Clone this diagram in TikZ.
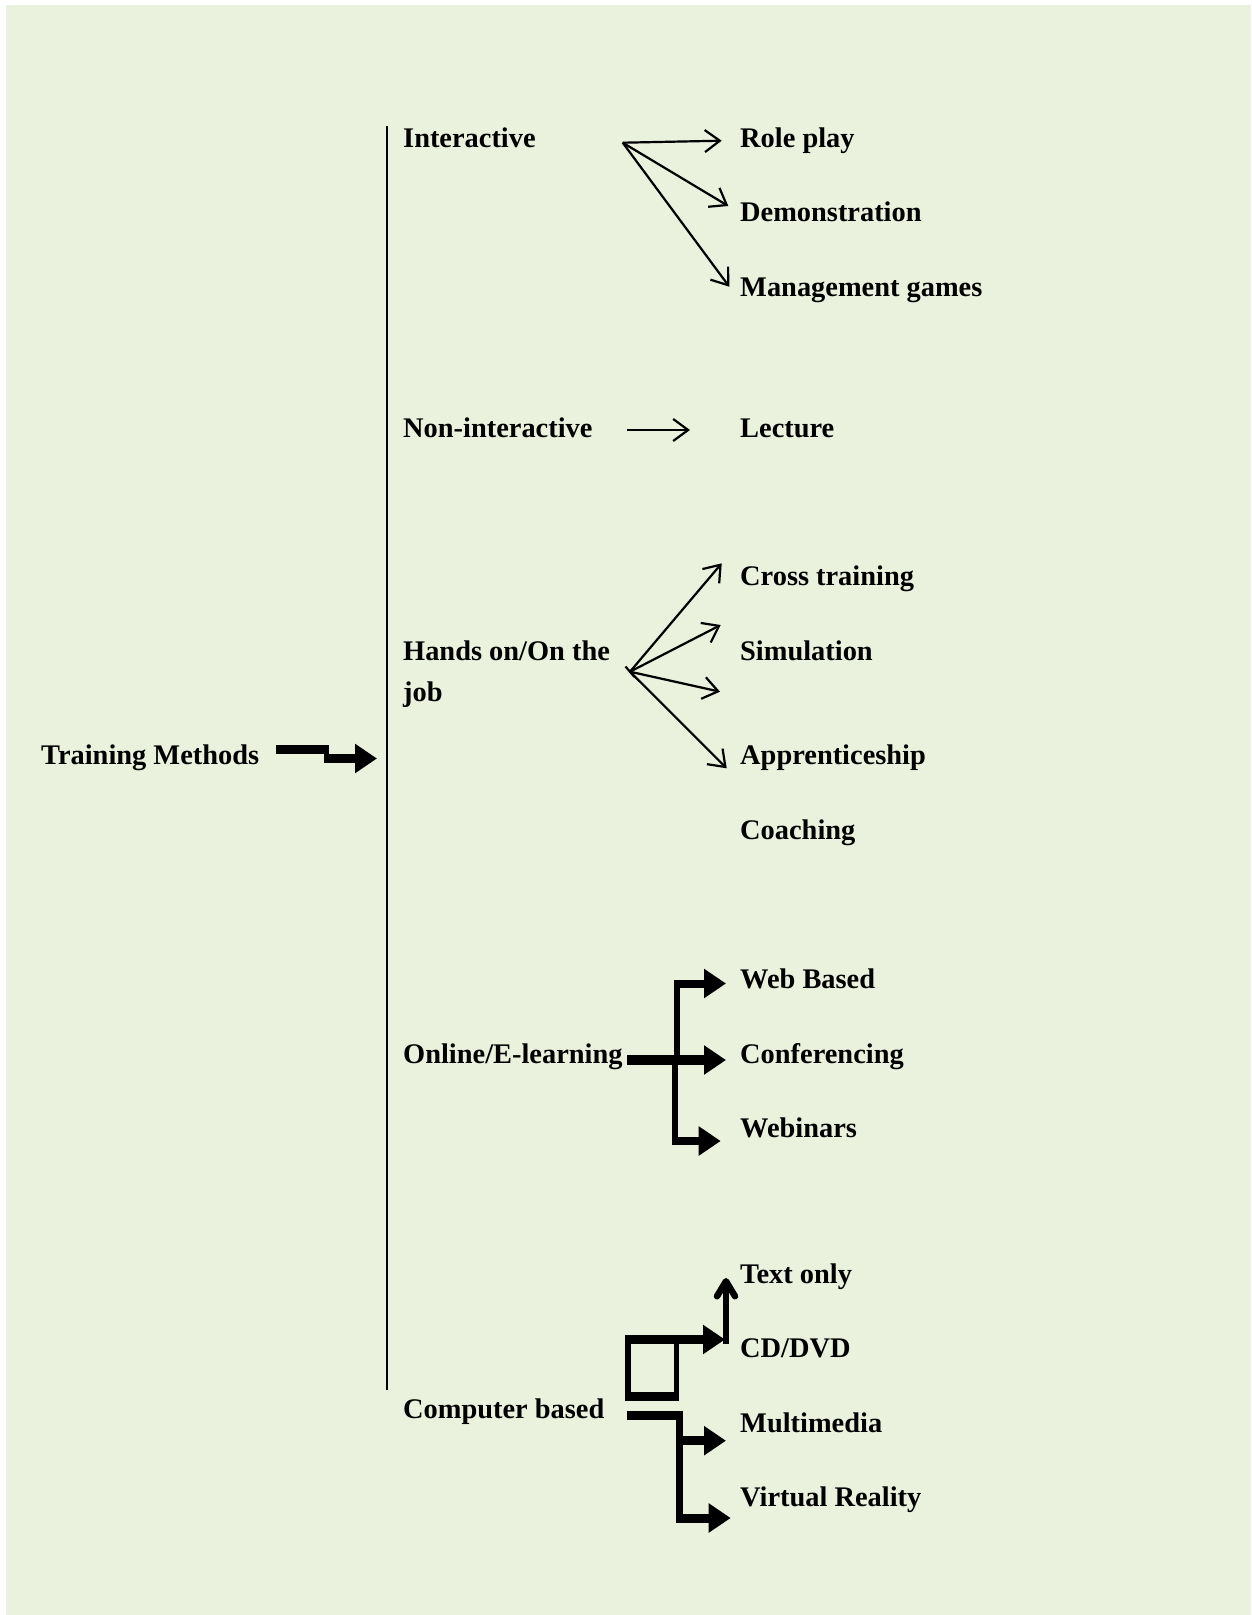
\documentclass[tikz,border=0pt]{standalone}
\usepackage{fontspec}
\setmainfont{Liberation Serif}
\usetikzlibrary{arrows.meta,calc}
\definecolor{bg}{HTML}{EAF1DD}
\begin{document}
\begin{tikzpicture}[x=1pt,y=-1pt,
  lbl/.style={anchor=base west,inner sep=0pt,font=\fontsize{28.4}{41}\selectfont\bfseries},
  thinarrow/.style={line width=2.2pt,-{Straight Barb[length=15pt,width=22pt]}},
  thickarrow/.style={line width=9pt,-{Triangle[length=22pt,width=28pt]}},
  vbar/.style={line width=6pt}
]
\useasboundingbox (0,0) rectangle (1251,1615);
\fill[white] (0,0) rectangle (1251,1615);
\fill[bg] (6,5) rectangle (1251,1615);

% main vertical bar
\coordinate (bartop) at (387,126);
\coordinate (barbot) at (387,1390);
\draw[line width=2.5pt] (bartop) -- (barbot);

% labels
\node[lbl] (tm) at (41,764) {Training Methods};
\node[lbl] (int) at (403,147) {Interactive};
\node[lbl] (role) at (740,147) {Role play};
\node[lbl] (demo) at (740,221) {Demonstration};
\node[lbl] (mgmt) at (740,296) {Management games};
\node[lbl] (nonint) at (403,437) {Non-interactive};
\node[lbl] (lect) at (740,437) {Lecture};
\node[lbl] (cross) at (740,585) {Cross training};
\node[lbl] (simu) at (740,660) {Simulation};
\node[lbl] (hands) at (403,660) {Hands on/On the};
\node[lbl] (job) at (403,701) {job};
\node[lbl] (appr) at (740,764) {Apprenticeship};
\node[lbl] (coach) at (740,839) {Coaching};
\node[lbl] (web) at (740,988) {Web Based};
\node[lbl] (online) at (403,1063) {Online/E-learning};
\node[lbl] (conf) at (740,1063) {Conferencing};
\node[lbl] (webin) at (740,1137) {Webinars};
\node[lbl] (text) at (740,1283) {Text only};
\node[lbl] (cd) at (740,1357) {CD/DVD};
\node[lbl] (comp) at (403,1418) {Computer based};
\node[lbl] (multi) at (740,1432) {Multimedia};
\node[lbl] (vr) at (740,1506) {Virtual Reality};

% Training Methods stepped arrow
\coordinate (tm1) at (276,749.5);
\coordinate (tm2) at (329,749.5);
\coordinate (tm3) at (324,758.5);
\coordinate (tm4) at (377,758.5);
\draw[line width=9pt] (tm1) -- (tm2);
\draw[thickarrow] (tm3) -- (tm4);

% Interactive
\coordinate (io) at (622.7,142.7);
\coordinate (i1) at (721.7,140.7);
\coordinate (i2) at (728.3,206);
\coordinate (i3) at (729.3,286.7);
\draw[thinarrow] (io) -- (i1);
\draw[thinarrow] (io) -- (i2);
\draw[thinarrow] (io) -- (i3);

% Non-interactive
\coordinate (n0) at (627,430);
\coordinate (n1) at (690,430);
\draw[thinarrow] (n0) -- (n1);

% Hands on
\coordinate (ho) at (630,671.7);
\coordinate (h1) at (721.7,563.3);
\coordinate (h2) at (720.7,625);
\coordinate (h3) at (720,691.7);
\coordinate (h4) at (726.7,768.3);
\draw[thinarrow] (ho) -- (h1);
\draw[thinarrow] (ho) -- (h2);
\draw[thinarrow] (ho) -- (h3);
\draw[thinarrow] (ho) -- (h4);
\coordinate (hta) at (625.5,666.5);
\coordinate (htb) at (634.5,677);
\draw[line width=2.2pt] (hta) -- (htb);

% Online
\coordinate (o0) at (627,1060);
\coordinate (o1) at (726,1060);
\coordinate (ou1) at (676.7,1064);
\coordinate (ou2) at (676.7,983.5);
\coordinate (ou3) at (726,983.5);
\coordinate (ol1) at (674.5,1056);
\coordinate (ol2) at (674.5,1141);
\coordinate (ol3) at (720.7,1141);
\draw[line width=10pt,-{Triangle[length=22pt,width=28pt]}] (o0) -- (o1);
\draw[vbar] (ou1) -- ($(ou2)+(0,-4)$);
\draw[line width=8pt,-{Triangle[length=22pt,width=28pt]}] ($(ou2)+(-3,0)$) -- (ou3);
\draw[vbar] (ol1) -- ($(ol2)+(0,4)$);
\draw[line width=8pt,-{Triangle[length=22pt,width=28pt]}] ($(ol2)+(-3,0)$) -- (ol3);

% Computer based: square
\fill (625,1335) rectangle (679,1344);
\fill (625,1335) rectangle (630.7,1400.7);
\fill (673.5,1335) rectangle (679,1400.7);
\fill (625,1391.7) rectangle (679,1400.7);
\coordinate (cs1) at (678,1339.5);
\coordinate (cs2) at (725,1339.5);
\draw[thickarrow] (cs1) -- (cs2);
\coordinate (ct1) at (726,1344);
\coordinate (ct2) at (726,1278);
\draw[line width=5.5pt,-{Straight Barb[length=15pt,width=18pt,line width=6.5pt,round]}] (ct1) -- (ct2);

% Computer based: lower
\coordinate (cl0) at (626.7,1415);
\coordinate (cl1) at (683,1415);
\coordinate (cv1) at (679,1410.5);
\coordinate (cv2) at (679,1522);
\draw[line width=9pt] (cl0) -- (cl1);
\draw[line width=7pt] (cv1) -- (cv2);
\coordinate (cm1) at (676,1440.7);
\coordinate (cm2) at (726,1440.7);
\coordinate (cr1) at (676,1518);
\coordinate (cr2) at (730.7,1518);
\draw[thickarrow] (cm1) -- (cm2);
\draw[thickarrow] (cr1) -- (cr2);
\end{tikzpicture}
\end{document}
